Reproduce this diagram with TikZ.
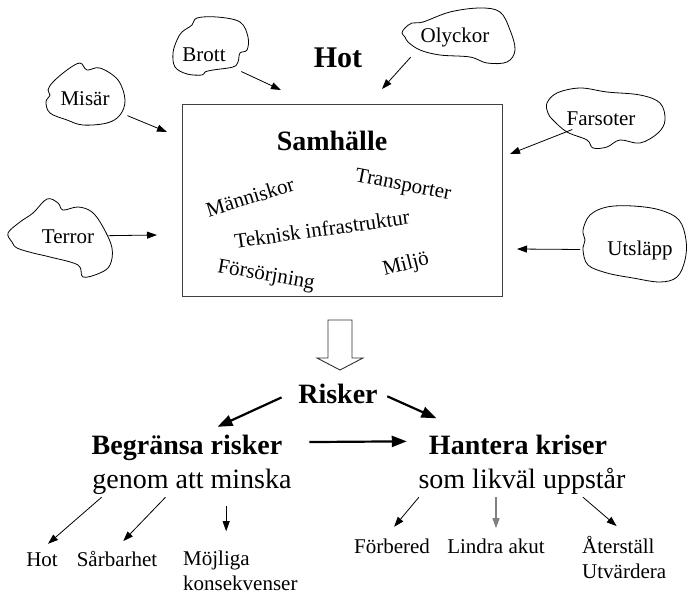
\documentclass[tikz,border=0pt]{standalone}
\usepackage{fontspec}
\setmainfont{Liberation Serif}
\usetikzlibrary{arrows.meta}

\begin{document}
\begin{tikzpicture}[x=1pt, y=-1pt,
lbl/.style={font=\fontsize{21}{25}\selectfont, inner sep=3pt},
item/.style={font=\fontsize{21}{25}\selectfont, inner sep=0pt},
big/.style={font=\fontsize{28}{34}\selectfont, inner sep=3pt},
title/.style={font=\fontsize{28}{34}\selectfont\bfseries, inner sep=3pt},
arr/.style={-{Triangle[length=10pt,width=7pt]}, line width=0.8pt},
bigarr/.style={-{Triangle[length=15pt,width=11pt]}, line width=2.2pt}
]
\useasboundingbox (0,0) rectangle (688,597);

% hot (clouds)
\node[title, font=\fontsize{30}{34}\selectfont\bfseries, anchor=base] (hot) at (338,67) {Hot};
\node[lbl, anchor=base] (brott) at (204,61) {Brott};
\node[lbl, anchor=base] (misar) at (85,105) {Misär};
\node[lbl, anchor=base] (olyckor) at (455,42) {Olyckor};
\node[lbl, anchor=base] (farsoter) at (601,125) {Farsoter};
\node[lbl, anchor=base] (terror) at (68,243) {Terror};
\node[lbl, anchor=base] (utslapp) at (640,255) {Utsläpp};

\draw[line width=0.8pt] plot[smooth cycle, tension=0.6] coordinates {(182,32) (192,25) (197,18) (217,17) (240,22) (248,37) (247,50) (240,53) (238,62) (233,67) (213,70) (205,72) (202,75) (187,74) (175,67) (173,53) (177,40)};
\draw[line width=0.8pt] plot[smooth cycle, tension=0.6] coordinates {(53,82) (67,70) (80,63) (87,70) (100,68) (118,80) (125,100) (120,115) (107,123) (83,125) (67,120) (50,113) (46,102) (50,95) (48,90)};
\draw[line width=0.8pt] plot[smooth cycle, tension=0.6] coordinates {(405,28) (412,23) (423,22) (450,12) (480,8) (500,12) (510,30) (515,50) (507,62) (487,63) (470,57) (440,55) (420,50) (408,42) (405,37) (402,33)};
\draw[line width=0.8pt] plot[smooth cycle, tension=0.6] coordinates {(547,103) (557,93) (580,88) (607,92) (640,95) (660,103) (665,120) (658,133) (640,143) (620,140) (607,147) (593,148) (587,140) (567,132) (553,120) (548,113)};
\draw[line width=0.8pt] plot[smooth cycle, tension=0.6] coordinates {(8,233) (20,222) (33,213) (47,199) (58,203) (63,210) (78,207) (92,212) (103,227) (112,248) (110,265) (100,273) (83,277) (78,265) (50,257) (33,253) (17,248) (12,242)};
\draw[line width=0.8pt] plot[smooth cycle, tension=0.6] coordinates {(583,230) (590,215) (607,207) (633,206) (660,210) (679,220) (686,240) (685,260) (677,277) (660,282) (633,278) (607,273) (588,265) (583,250) (585,240)};

% samhalle
\node[draw=black!75, line width=0.9pt, minimum width=320pt, minimum height=192pt] (samhalle) at (342,200.5) {};
\node[title, anchor=base] (samhalletitel) at (332,150) {Samhälle};
\node[item, rotate=17] (manniskor) at (250,197) {Människor};
\node[item, rotate=-11] (transporter) at (403,186) {Transporter};
\node[item, rotate=8] (teknisk) at (322,229) {Teknisk infrastruktur};
\node[item, rotate=-10] (forsorjning) at (266,276) {Försörjning};
\node[item, rotate=14] (miljo) at (406,265) {Miljö};

\coordinate (brottin) at (281,90);
\coordinate (misarin) at (167,132);
\coordinate (olyckorin) at (382,89);
\coordinate (farsoterin) at (510,154);
\coordinate (terrorin) at (157,235);
\coordinate (utslappin) at (517,249);

\draw[arr, shorten <=17pt] (brott) -- (brottin);
\draw[arr, shorten <=19pt] (misar) -- (misarin);
\draw[arr, shorten <=10pt] (olyckor.south west) -- (olyckorin);
\draw[arr, shorten <=3pt] (farsoter) -- (farsoterin);
\draw[arr, shorten <=11pt] (terror) -- (terrorin);
\draw[arr, shorten <=24pt] (utslapp) -- (utslappin);

% pil till risker
\draw[line width=0.9pt, draw=black!80] (328,320) -- (352,320) -- (352,358) -- (363,358) -- (340,370) -- (317,358) -- (328,358) -- cycle;

% risker
\node[title, anchor=base] (risker) at (338,403) {Risker};
\node[title, anchor=base] (begransa) at (187,454) {Begränsa risker};
\node[big, anchor=base] (genom) at (192,488) {genom att minska};
\node[title, anchor=base] (hantera) at (518,454) {Hantera kriser};
\node[big, anchor=base] (som) at (522,488) {som likväl uppstår};

\draw[bigarr, shorten <=15pt, shorten >=11pt] (risker.177) -- (begransa.38);
\draw[bigarr, shorten <=7pt, shorten >=32pt] (risker.0) -- (hantera.166);
\draw[bigarr, shorten <=24pt, shorten >=19pt] (begransa.3) -- (hantera.178.5);

% atgarder
\node[lbl, anchor=base] (hotl) at (42,566) {Hot};
\node[lbl, anchor=base] (sarl) at (117,566) {Sårbarhet};
\node[lbl, anchor=base west, align=left] (mojl) at (180,590) {Möjliga\\konsekvenser};
\node[lbl, anchor=base] (forl) at (392,553) {Förbered};
\node[lbl, anchor=base] (lindl) at (496,553) {Lindra akut};
\node[lbl, anchor=base west, align=left] (ater) at (579,578) {Återställ\\Utvärdera};

\draw[arr, shorten >=8pt] (genom.190.7) -- (hotl.north);
\draw[arr, shorten >=9pt] (genom.211.8) -- (sarl.north);
\draw[arr, shorten <=9pt, shorten >=16pt] (genom.-25) -- (genom.-25 |- mojl.north);
\draw[arr, shorten >=11pt] (som.189.7) -- (forl.115);
\draw[arr, draw=gray, line width=1.2pt, shorten >=7pt] (lindl.north |- som.south) -- (lindl.north);
\draw[arr, shorten >=10pt] (som.-15) -- (ater.north);
\end{tikzpicture}
\end{document}
